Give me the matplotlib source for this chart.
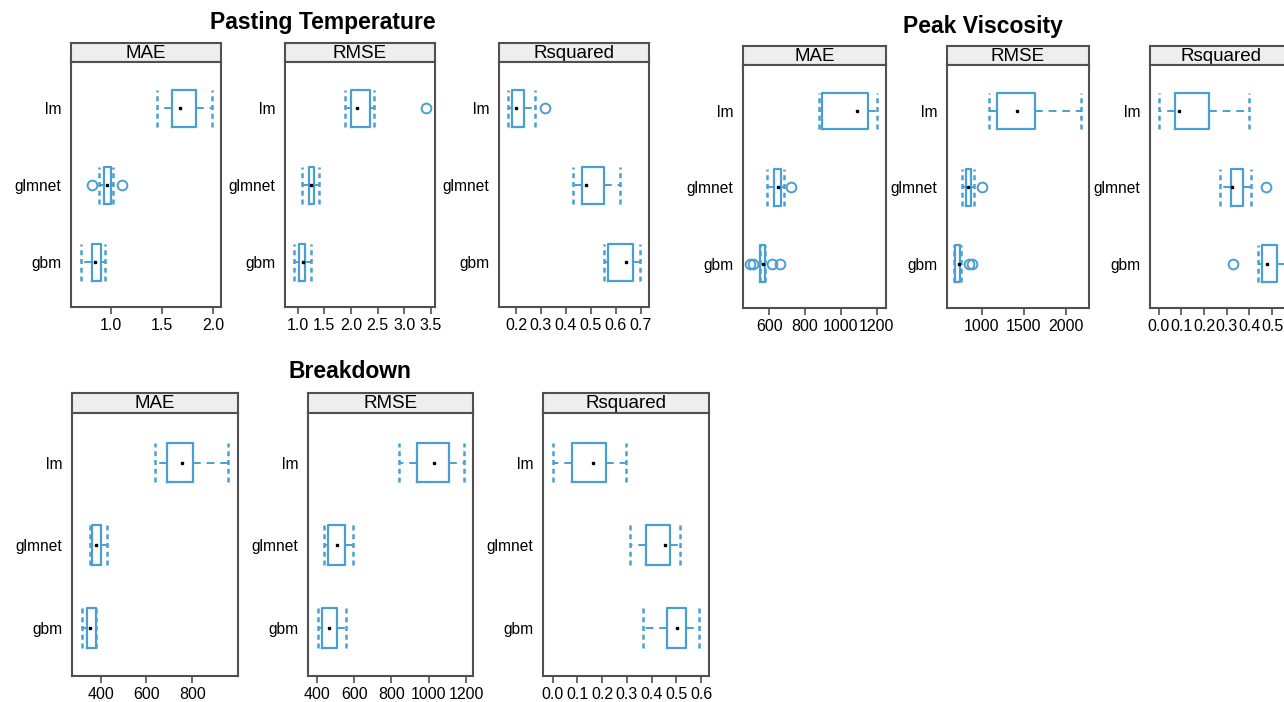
import matplotlib
matplotlib.use("Agg")
import matplotlib.pyplot as plt

plt.rcParams['font.family'] = ['Liberation Sans', 'DejaVu Sans']

# models, bottom to top
models = ["gbm", "glmnet", "lm"]

# five-number summaries per model: [whisker low, q1, median, q3, whisker high]
pt_mae = [[0.714, 0.815, 0.844, 0.903, 0.948],
          [0.889, 0.935, 0.961, 1.000, 1.026],
          [1.454, 1.594, 1.675, 1.828, 1.986]]
pt_mae_out = [[], [0.815, 1.107], []]
pt_rmse = [[0.937, 1.031, 1.094, 1.144, 1.250],
           [1.075, 1.212, 1.256, 1.312, 1.406],
           [1.894, 2.006, 2.106, 2.356, 2.425]]
pt_rmse_out = [[], [], [3.40]]
pt_rsq = [[0.552, 0.567, 0.639, 0.667, 0.695],
          [0.430, 0.466, 0.481, 0.553, 0.617],
          [0.167, 0.184, 0.199, 0.233, 0.275]]
pt_rsq_out = [[], [], [0.317]]

pv_mae = [[549, 550, 563, 576, 578],
          [587, 626, 647, 664, 682],
          [876, 896, 1092, 1150, 1200]]
pv_mae_out = [[494, 507, 617, 660], [723], []]
pv_rmse = [[673, 685, 729, 749, 755],
           [769, 816, 840, 868, 904],
           [1090, 1185, 1422, 1636, 2174]]
pv_rmse_out = [[853, 885], [1000], []]
pv_rsq = [[0.439, 0.455, 0.479, 0.524, 0.555],
          [0.272, 0.318, 0.322, 0.371, 0.406],
          [0.000, 0.072, 0.089, 0.222, 0.398]]
pv_rsq_out = [[0.330], [0.474], []]

bd_mae = [[320, 342, 353, 378, 380],
          [353, 361, 378, 400, 426],
          [637, 691, 755, 805, 955]]
bd_mae_out = [[], [], []]
bd_rmse = [[409, 430, 466, 509, 554],
           [439, 461, 507, 551, 596],
           [839, 935, 1028, 1110, 1187]]
bd_rmse_out = [[], [], []]
bd_rsq = [[0.367, 0.464, 0.502, 0.539, 0.592],
          [0.313, 0.378, 0.455, 0.474, 0.513],
          [0.000, 0.079, 0.164, 0.215, 0.297]]
bd_rsq_out = [[], [], []]

W, H = 1284, 702
BLUE = '#4a9fd2'
EDGE = '#505050'

fig = plt.figure(figsize=(W / 100, H / 100), dpi=100)


def px_axes(l, t, r, b):
    return fig.add_axes([l / W, 1 - b / H, (r - l) / W, (b - t) / H])


def panel(l, r, st, sb, pb, name, summ, outl, xlim, ticks, fmt):
    # strip on top
    sax = px_axes(l, st, r, sb)
    sax.set_facecolor('#eeeeee')
    sax.set_xticks([])
    sax.set_yticks([])
    for s in sax.spines.values():
        s.set_color(EDGE)
        s.set_linewidth(1.5)
    sax.text(0.5, 0.45, name, ha='center', va='center', fontsize=13.5,
             transform=sax.transAxes)

    ax = px_axes(l, sb, r, pb)
    stats = []
    for i, s in enumerate(summ):
        stats.append(dict(whislo=s[0], q1=s[1], med=s[2], q3=s[3],
                          whishi=s[4], fliers=outl[i]))
    pos = [1, 2, 3]
    ax.bxp(stats, positions=pos, widths=0.48, capwidths=0.48,
           orientation='horizontal', showfliers=True,
           boxprops=dict(color=BLUE, linewidth=1.6),
           whiskerprops=dict(color=BLUE, linewidth=1.4, linestyle=(0, (4, 3))),
           capprops=dict(color=BLUE, linewidth=1.8, linestyle=(0, (2, 1.5))),
           medianprops=dict(linewidth=0),
           flierprops=dict(marker='o', markerfacecolor='none',
                           markeredgecolor=BLUE, markersize=7,
                           markeredgewidth=1.4))
    ax.plot([s[2] for s in summ], pos, 's', color='black', markersize=2,
            linestyle='none')
    ax.set_xlim(xlim)
    ax.set_ylim(0.42, 3.6)
    ax.set_yticks(pos)
    ax.set_yticklabels(models, fontsize=11.2)
    ax.set_xticks(ticks)
    ax.set_xticklabels([fmt % t for t in ticks], fontsize=11.5)
    ax.tick_params(axis='y', length=0, pad=7)
    ax.tick_params(axis='x', length=5, width=1.2, color=EDGE, pad=3)
    for s in ax.spines.values():
        s.set_color(EDGE)
        s.set_linewidth(1.5)
    return ax


# Pasting Temperature
panel(71, 221, 43, 62, 307, "MAE", pt_mae, pt_mae_out, (0.613, 2.075),
      [1.0, 1.5, 2.0], "%.1f")
panel(285, 435, 43, 62, 307, "RMSE", pt_rmse, pt_rmse_out, (0.762, 3.575),
      [1.0, 1.5, 2.0, 2.5, 3.0, 3.5], "%.1f")
panel(499, 649, 43, 62, 307, "Rsquared", pt_rsq, pt_rsq_out, (0.132, 0.733),
      [0.2, 0.3, 0.4, 0.5, 0.6, 0.7], "%.1f")

# Peak Viscosity
panel(743, 886, 46, 65, 308, "MAE", pv_mae, pv_mae_out, (453, 1252),
      [600, 800, 1000, 1200], "%d")
panel(947, 1089, 46, 65, 308, "RMSE", pv_rmse, pv_rmse_out, (589, 2273),
      [1000, 1500, 2000], "%d")
panel(1150, 1292, 46, 65, 308, "Rsquared", pv_rsq, pv_rsq_out, (-0.038, 0.588),
      [0.0, 0.1, 0.2, 0.3, 0.4, 0.5], "%.1f")

# Breakdown
panel(72, 238, 393, 413, 676, "MAE", bd_mae, bd_mae_out, (275, 1000),
      [400, 600, 800], "%d")
panel(308, 473, 393, 413, 676, "RMSE", bd_rmse, bd_rmse_out, (353, 1237),
      [400, 600, 800, 1000, 1200], "%d")
panel(543, 709, 393, 413, 676, "Rsquared", bd_rsq, bd_rsq_out, (-0.039, 0.632),
      [0.0, 0.1, 0.2, 0.3, 0.4, 0.5, 0.6], "%.1f")

fig.text(323 / W, 1 - 22 / H, "Pasting Temperature", ha='center', va='center',
         fontsize=16.5, fontweight='bold')
fig.text(983 / W, 1 - 27 / H, "Peak Viscosity", ha='center', va='center',
         fontsize=16.5, fontweight='bold')
fig.text(350 / W, 1 - 371 / H, "Breakdown", ha='center', va='center',
         fontsize=16.5, fontweight='bold')

fig.savefig("out.png", dpi=100)
